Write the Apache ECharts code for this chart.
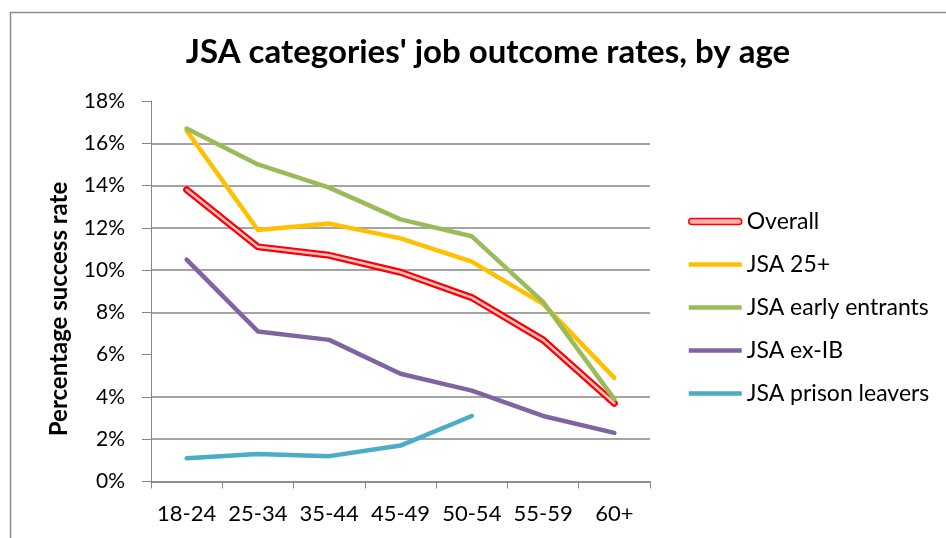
<!DOCTYPE html>
<html>
<head>
<meta charset="utf-8">
<script src="https://cdn.jsdelivr.net/npm/echarts@6/dist/echarts.min.js"></script>
<style>
  html, body { margin: 0; padding: 0; background: #ffffff; }
  #chart { width: 946px; height: 538px; }
</style>
</head>
<body>
<div id="chart"></div>
<script>
// Age bands on the x axis
const categories = ['18-24', '25-34', '35-44', '45-49', '50-54', '55-59', '60+'];

// Job outcome rates (%) per age band
const overall = [13.8, 11.1, 10.7, 9.9, 8.7, 6.7, 3.7];
const jsa25 = [16.6, 11.9, 12.2, 11.5, 10.4, 8.4, 4.9];
const jsaEarly = [16.7, 15.0, 13.9, 12.4, 11.6, 8.5, 3.9];
const jsaExIB = [10.5, 7.1, 6.7, 5.1, 4.3, 3.1, 2.3];
const jsaPrison = [1.1, 1.3, 1.2, 1.7, 3.1, null, null];

const seriesNames = ['Overall', 'JSA 25+', 'JSA early entrants', 'JSA ex-IB', 'JSA prison leavers'];

const FONT = 'Lato';
const gridGray = '#868686';

// Split line colours per tick 0%..18%
const splitColors = [gridGray, gridGray, gridGray, 'rgba(0,0,0,0)', gridGray, gridGray, gridGray, gridGray, gridGray, 'rgba(0,0,0,0)'];

const barIcon = 'path://M0,0L53,0L53,4.5L0,4.5Z';
const overallIcon = 'path://M3,0L50,0A3,3,0,0,1,50,6L3,6A3,3,0,0,1,3,0Z';

function lineSeries(name, data, color, width, z) {
  return {
    name: name,
    type: 'line',
    data: data,
    symbol: 'none',
    smooth: false,
    connectNulls: false,
    z: z,
    lineStyle: { color: color, width: width, cap: 'round', join: 'round' },
    itemStyle: { color: color },
    emphasis: { disabled: true }
  };
}

const chart = echarts.init(document.getElementById('chart'), null, { renderer: 'canvas' });

chart.setOption({
  animation: false,
  backgroundColor: '#ffffff',
  title: {
    text: "JSA categories' job outcome rates, by age",
    left: 483,
    top: 31,
    textAlign: 'center',
    textStyle: { fontFamily: FONT, fontWeight: 'bold', fontSize: 33, color: '#000000' }
  },
  grid: { left: 151, top: 101, right: 296, bottom: 56.5, containLabel: false },
  legend: {
    orient: 'vertical',
    left: 683,
    top: 205,
    itemWidth: 53,
    itemHeight: 10,
    itemGap: 20,
    textStyle: { fontFamily: FONT, fontSize: 23, color: '#000000', padding: [0, 0, 0, 0] },
    data: [
      { name: 'Overall', icon: overallIcon, itemStyle: { color: '#ffb0b0', borderColor: '#ff0000', borderWidth: 1.5 } },
      { name: 'JSA 25+', icon: barIcon, itemStyle: { color: '#ffc000', borderWidth: 0 } },
      { name: 'JSA early entrants', icon: barIcon, itemStyle: { color: '#9bbb59', borderWidth: 0 } },
      { name: 'JSA ex-IB', icon: barIcon, itemStyle: { color: '#8064a2', borderWidth: 0 } },
      { name: 'JSA prison leavers', icon: barIcon, itemStyle: { color: '#4bacc6', borderWidth: 0 } }
    ]
  },
  xAxis: {
    type: 'category',
    data: categories,
    boundaryGap: true,
    axisLine: { show: true, lineStyle: { color: gridGray, width: 1.5 } },
    axisTick: { show: true, alignWithLabel: false, length: 7, lineStyle: { color: gridGray, width: 1 } },
    axisLabel: { fontFamily: FONT, fontSize: 22, color: '#000000', margin: 21, interval: 0 },
    splitLine: { show: false }
  },
  yAxis: {
    type: 'value',
    min: 0,
    max: 18,
    interval: 2,
    axisLine: { show: true, lineStyle: { color: gridGray, width: 1 } },
    axisTick: { show: true, length: 9, lineStyle: { color: gridGray, width: 1 } },
    axisLabel: {
      fontFamily: FONT, fontSize: 21, color: '#000000', margin: 26,
      formatter: function (v) { return v + '%'; }
    },
    splitLine: { show: true, lineStyle: { color: splitColors, width: 1.5 } }
  },
  graphic: [
    {
      type: 'polyline',
      silent: true,
      shape: { points: [[10.5, 538], [10.5, 12.5], [946, 12.5]] },
      style: { stroke: '#8c8c8c', lineWidth: 1.5, fill: null }
    },
    {
      type: 'text',
      silent: true,
      x: 59,
      y: 309,
      rotation: Math.PI / 2,
      style: {
        text: 'Percentage success rate',
        fontFamily: FONT,
        fontWeight: 'bold',
        fontSize: 24,
        fill: '#000000',
        align: 'center',
        verticalAlign: 'middle'
      }
    }
  ],
  series: [
    lineSeries(seriesNames[0], overall, '#ff0000', 7, 2),
    Object.assign(lineSeries('Overall inner', overall, '#ffc4c4', 2.5, 3), { legendHoverLink: false }),
    lineSeries(seriesNames[1], jsa25, '#ffc000', 4.5, 4),
    lineSeries(seriesNames[2], jsaEarly, '#9bbb59', 4.5, 5),
    lineSeries(seriesNames[3], jsaExIB, '#8064a2', 4.5, 6),
    lineSeries(seriesNames[4], jsaPrison, '#4bacc6', 4.5, 7)
  ]
});
</script>
</body>
</html>
